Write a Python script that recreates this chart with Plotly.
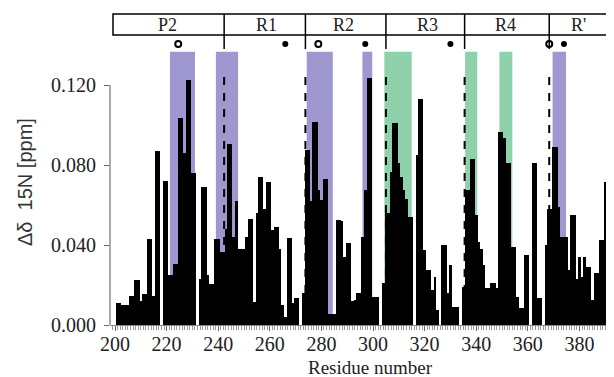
import plotly.graph_objects as go

residues = list(range(201, 394))
delta_n = [
    0.011, 0.011, 0.010, 0.010, 0.010, 0.0145, 0.0145, 0.0225, 0.0225, 0.012,   # 201-210
    0.0155, 0.0155, 0.043, 0.043, 0.0145, 0.087, 0.087, None, 0.072, 0.072,     # 211-220
    0.025, 0.025, 0.0305, 0.0305, 0.1037, 0.1037, 0.086, 0.1225, 0.1225, 0.076, # 221-230
    0.076, None, 0.023, 0.069, 0.069, 0.025, 0.0205, 0.0205, 0.043, 0.043,      # 231-240
    0.0367, 0.0367, 0.048, 0.0905, 0.0905, 0.044, 0.062, 0.038, 0.038, 0.038,   # 241-250
    0.044, 0.053, 0.053, 0.0117, 0.056, 0.074, 0.074, 0.058, 0.0717, 0.0717,    # 251-260
    0.0475, 0.049, 0.049, 0.038, 0.010, 0.004, 0.0433, 0.0433, 0.011, 0.0137,   # 261-270
    0.0137, None, 0.0158, 0.0875, 0.0875, 0.062, 0.1017, 0.1017, 0.0675, 0.0625,# 271-280
    0.073, 0.073, 0.0055, 0.0055, 0.0055, 0.0525, 0.0525, 0.052, 0.034, 0.041,  # 281-290
    0.041, 0.012, 0.0125, 0.016, 0.016, 0.044, 0.0675, 0.1233, 0.1233, 0.014,   # 291-300
    0.014, 0.014, None, 0.021, 0.056, 0.056, 0.0767, 0.1008, 0.1008, 0.081,     # 301-310
    0.074, 0.0675, 0.063, 0.054, 0.054, None, 0.085, 0.113, 0.113, 0.0375,      # 311-320
    0.0275, 0.0275, 0.0175, 0.024, 0.0075, None, 0.04, 0.04, 0.016, 0.03,       # 321-330
    0.009, 0.009, 0.009, None, 0.019, 0.0675, 0.0675, 0.083, 0.083, 0.055,      # 331-340
    0.0417, 0.038, 0.03, 0.0183, 0.0183, 0.021, 0.021, 0.0183, 0.0967, 0.0967,  # 341-350
    0.0933, 0.081, 0.081, 0.039, 0.039, 0.014, 0.0083, 0.0083, 0.035, 0.035,    # 351-360
    None, 0.081, 0.081, 0.0133, 0.0133, None, 0.04, 0.058, 0.058, 0.089,        # 361-370
    0.089, 0.059, 0.044, 0.044, 0.044, 0.0275, 0.055, 0.055, 0.0228, 0.034,     # 371-380
    0.024, 0.034, 0.029, 0.029, 0.0125, 0.026, 0.026, 0.0425, 0.0425, 0.0717,   # 381-390
    0.0717, 0.0717, 0.0717,                                                     # 391-393
]
assert len(delta_n) == len(residues)

region_labels = ["P2", "R1", "R2", "R3", "R4", "R'"]
region_label_pos = [220.5, 258.8, 288.4, 321.3, 351.2, 379.5]
region_bounds = [242.3, 273.8, 305.0, 335.5, 368.3]

purple_spans = [(221.3, 231.0), (239.1, 247.7), (274.3, 284.4), (295.9, 299.7), (369.6, 374.8)]
green_spans = [(304.4, 315.0), (335.7, 340.4), (349.0, 354.0)]

open_marks = [224.5, 278.8, 368.3]
filled_marks = [266, 297, 330, 374]

y_ticks = [0.0, 0.04, 0.08, 0.12]
x_ticks = list(range(200, 381, 20))

X_RANGE = [198.06, 393.4]
Y_RANGE = [0, 0.1435]
SHADE_TOP = 0.1366
MARK_Y = 0.1405
PURPLE = "#9f97d0"
GREEN = "#8ed1aa"
SERIF = "Liberation Serif"

# layout geometry (page body adds an 8px offset, so the figure is 8px smaller)
W, H = 606, 369
ML, MT, MB = 102, 30, 52
PH = H - MT - MB  # plot height


def py(ref_y):
    """paper y for a pixel row of the reference"""
    return (325 - ref_y) / PH


def px(ref_x):
    return (ref_x - 110) / (W - ML)


fig = go.Figure()
fig.add_trace(go.Bar(x=residues, y=delta_n, width=1.0, marker=dict(color="black", line=dict(width=0)),
                     showlegend=False, hoverinfo="x+y"))
fig.add_trace(go.Scatter(x=open_marks, y=[MARK_Y] * len(open_marks), mode="markers", cliponaxis=False,
                         marker=dict(symbol="circle-open", size=6, color="black", line=dict(width=2)),
                         showlegend=False))
fig.add_trace(go.Scatter(x=filled_marks, y=[MARK_Y] * len(filled_marks), mode="markers", cliponaxis=False,
                         marker=dict(symbol="circle", size=6, color="black"), showlegend=False))

shapes = []
for a, b in purple_spans:
    shapes.append(dict(type="rect", xref="x", yref="y", x0=a, x1=b, y0=0, y1=SHADE_TOP,
                       fillcolor=PURPLE, line=dict(width=0), layer="below"))
for a, b in green_spans:
    shapes.append(dict(type="rect", xref="x", yref="y", x0=a, x1=b, y0=0, y1=SHADE_TOP,
                       fillcolor=GREEN, line=dict(width=0), layer="below"))
for xb in region_bounds:
    shapes.append(dict(type="line", xref="x", yref="y", x0=xb, x1=xb, y0=0, y1=0.128,
                       line=dict(color="black", width=2, dash="8px,8px"), layer="below"))
    shapes.append(dict(type="line", xref="x", yref="paper", x0=xb, x1=xb, y0=py(49), y1=py(14),
                       line=dict(color="black", width=1.5)))
# header box
shapes.append(dict(type="rect", xref="paper", yref="paper", x0=px(113), x1=1.02, y0=py(35), y1=py(14),
                   line=dict(color="black", width=1.5), fillcolor="rgba(0,0,0,0)"))
# y axis line (only up to the last tick)
shapes.append(dict(type="line", xref="paper", yref="y", x0=0, x1=0, y0=-0.001, y1=0.12,
                   line=dict(color="#555", width=1)))

annotations = []
for lab, pos in zip(region_labels, region_label_pos):
    annotations.append(dict(x=pos, y=py(25), xref="x", yref="paper", text=lab, showarrow=False,
                            font=dict(family=SERIF, size=18, color="#222"), xanchor="center", yanchor="middle"))
annotations.append(dict(x=px(370), y=py(367), xref="paper", yref="paper", text="Residue number",
                        showarrow=False, font=dict(family=SERIF, size=19, color="#222"),
                        xanchor="center", yanchor="middle"))
annotations.append(dict(x=px(25), y=py(182), xref="paper", yref="paper",
                        text="Δδ  15N [ppm]", textangle=-90, showarrow=False,
                        font=dict(family="Liberation Sans", size=20, color="#333"),
                        xanchor="center", yanchor="middle"))

fig.update_layout(
    width=W, height=H,
    margin=dict(l=ML, r=0, t=MT, b=MB, autoexpand=False),
    paper_bgcolor="white", plot_bgcolor="white",
    bargap=0,
    shapes=shapes, annotations=annotations,
    xaxis=dict(range=X_RANGE, tickvals=x_ticks, ticktext=[str(v) for v in x_ticks],
               ticks="outside", ticklen=5, tickcolor="#666", showgrid=False, zeroline=False,
               showline=True, linecolor="#888", linewidth=1, ticklabelstandoff=-4,
               minor=dict(dtick=1, ticks="outside", ticklen=4, tickcolor="#999", showgrid=False),
               tickfont=dict(family=SERIF, size=20, color="#222")),
    yaxis=dict(range=Y_RANGE, tickvals=y_ticks, ticktext=["%.3f" % v for v in y_ticks],
               ticks="outside", ticklen=5, tickcolor="#666", showgrid=False, zeroline=False,
               showline=False, ticklabelstandoff=4,
               tickfont=dict(family=SERIF, size=20, color="#222")),
)

fig.write_html("out.html")
